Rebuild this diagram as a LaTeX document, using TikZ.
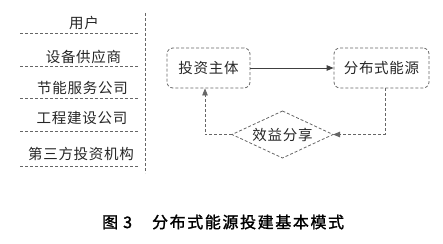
\documentclass[tikz,border=0pt]{standalone}
\usepackage{fontspec}
\setmainfont{Noto Sans CJK SC}
\newfontfamily\cjk{Noto Sans CJK SC}[LetterSpace=5]
\newfontfamily\capfont{Noto Sans CJK SC}[LetterSpace=10,FakeBold=1.5]
\usetikzlibrary{arrows.meta,shapes.geometric}
\begin{document}
\begin{tikzpicture}[x=1pt,y=-1pt,
  lbl/.style={font=\cjk\fontsize{14.5}{15}\selectfont, text=black!85, inner sep=0pt},
  dline/.style={draw=black!60, line width=0.8pt, dash pattern=on 3pt off 2pt},
  boxnode/.style={dline, rounded corners=6pt, minimum height=40pt, inner sep=0pt, font=\cjk\fontsize{14.5}{15}\selectfont, text=black!85},
  tip/.style={-{Triangle[length=7pt,width=5.5pt]}},
]
\useasboundingbox (0,0) rectangle (443,243);
% left column
\node[lbl] (u1) at (84,22.5) {用户};
\node[lbl] (u2) at (83.5,56.5) {设备供应商};
\node[lbl] (u3) at (82.5,88) {节能服务公司};
\node[lbl] (u4) at (82,118.5) {工程建设公司};
\node[lbl] (u5) at (81,154) {第三方投资机构};
\foreach \y/\n in {33/a,66/b,98/c,131/d,166/e}{
  \coordinate (l\n) at (20,\y);
  \coordinate (r\n) at (138,\y);
  \draw[dline] (l\n) -- (r\n);
}
\coordinate (vt) at (145,13);
\coordinate (vb) at (145,173);
\draw[dline] (vt) -- (vb);
% right diagram
\node[boxnode, minimum width=83pt] (inv) at (208.5,68) {投资主体};
\node[boxnode, minimum width=95pt] (src) at (381.5,68) {分布式能源};
\node[lbl] (ben) at (282.5,134.5) {效益分享};
\coordinate (dt) at (282.5,111);
\coordinate (dr) at (333,134.5);
\coordinate (db) at (282.5,158);
\coordinate (dl) at (232,134.5);
\draw[dline] (dt) -- (dr) -- (db) -- (dl) -- cycle;
\draw[draw=black!75, line width=0.9pt, tip] (inv.east) -- (src.west);
\coordinate (c1) at (385,134.5);
\coordinate (c2) at (205,134.5);
\draw[dline, tip] (src.south -| c1) -- (c1) -- (dr);
\draw[dline, tip] (dl) -- (c2) -- (inv.south -| c2);
% caption
\node[font=\capfont\fontsize{16}{17}\selectfont, text=black, anchor=west, inner sep=0pt] (cap) at (102,222) {图\hspace{5pt}3\hspace{20pt}分布式能源投建基本模式};
\end{tikzpicture}
\end{document}
